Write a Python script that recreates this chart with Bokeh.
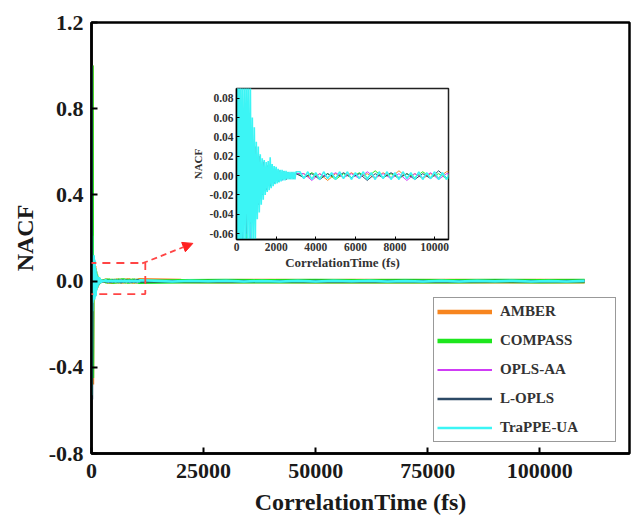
from bokeh.plotting import figure
from bokeh.models import (Range1d, FixedTicker, PrintfTickFormatter, Legend, LegendItem,
                          BoxAnnotation, Arrow, NormalHead)
from bokeh.layouts import column
from bokeh.embed import file_html
from bokeh.resources import INLINE

FONT = "Liberation Serif, Times New Roman, serif"

# ---------------- data ----------------
SERIES = ["AMBER", "COMPASS", "OPLS-AA", "L-OPLS", "TraPPE-UA"]
COLORS = ["#f7851f", "#1ee61e", "#cf3cf5", "#2c4a66", "#3cf5f5"]
MAIN_WIDTHS = [4.5, 4.5, 2.0, 2.5, 2.5]
INSET_WIDTHS = [1.0, 1.0, 1.0, 1.0, 1.6]

# correlation time grids (fs)
T_DENSE = (list(range(0, 3001, 50)) + list(range(3200, 10801, 200))
           + list(range(14000, 110001, 4000)))
T_COARSE = (list(range(0, 3001, 100)) + list(range(3400, 10601, 400))
            + list(range(20000, 110001, 10000)))

TRAPPE_UA = [
    1.0, -0.53, 0.21, -0.14, 0.12, -0.10, 0.11, -0.09, 0.10, -0.08,
    0.12, -0.07, 0.10, -0.085, 0.095, -0.075, 0.06, -0.07, 0.05, -0.068,
    0.035, -0.045, 0.03, -0.038, 0.022, -0.03, 0.018, -0.025, 0.016, -0.02,
    0.014, -0.017, 0.015, -0.015, 0.019, -0.013, 0.012, -0.011, 0.010, -0.009,
    0.009, -0.008, 0.007, -0.007, 0.006, -0.006, 0.006, -0.005, 0.005, -0.005,
    0.005, -0.004, 0.004, -0.004, 0.004, -0.004, 0.004, -0.004, 0.004, -0.004,
    0.004,
    0.004, -0.003, 0.004, -0.004, 0.003, -0.004, 0.004, -0.003, 0.003, -0.004,
    0.004, -0.003, 0.004, -0.004, 0.003, -0.003, 0.004, -0.004, 0.003, -0.004,
    0.004, -0.003, 0.004, -0.004, 0.003, -0.004, 0.004, -0.003, 0.003, -0.004,
    0.004, -0.004, 0.003, -0.003, 0.004, -0.004, 0.003, -0.004, 0.004,
    0.002, -0.002, 0.002, -0.001, 0.002, -0.002, 0.001, -0.002, 0.002, -0.002,
    0.002, -0.001, 0.002, -0.002, 0.001, -0.002, 0.002, -0.002, 0.002, -0.001,
    0.002, -0.002, 0.001, -0.002, 0.002,
]

AMBER = [
    1.0, -0.48, 0.09, -0.07, 0.08, -0.06, 0.07, -0.05, 0.04, -0.04,
    0.025, -0.03, 0.018, -0.02, 0.012, -0.013, 0.01, -0.01, 0.008, -0.007,
    0.006, -0.005, 0.005, -0.004, 0.004, -0.004, 0.003, -0.003, 0.003, -0.003,
    0.002,
    0.002, -0.003, 0.002, -0.005, 0.002, -0.002, 0.003, -0.002, 0.002, -0.003,
    0.003, -0.002, 0.005, -0.002, 0.002, -0.003, 0.002, -0.002, 0.004,
    0.001, -0.001, 0.001, -0.001, 0.001, -0.001, 0.001, -0.001, 0.001, -0.001,
]

COMPASS = [
    1.0, -0.45, 0.08, -0.06, 0.07, -0.065, 0.06, -0.05, 0.045, -0.035,
    0.03, -0.025, 0.02, -0.018, 0.014, -0.012, 0.011, -0.009, 0.008, -0.007,
    0.006, -0.006, 0.005, -0.004, 0.004, -0.003, 0.003, -0.003, 0.003, -0.002,
    0.003,
    -0.002, 0.003, -0.002, 0.002, -0.004, 0.002, -0.002, 0.003, -0.002, 0.005,
    -0.002, 0.002, -0.003, 0.002, -0.002, 0.004, -0.002, 0.002, -0.003,
    -0.001, 0.001, -0.001, 0.001, -0.001, 0.001, -0.001, 0.001, -0.001, 0.001,
]

OPLS_AA = [
    1.0, -0.5, 0.07, -0.08, 0.06, -0.06, 0.08, -0.07, 0.05, -0.04,
    0.03, -0.03, 0.02, -0.02, 0.015, -0.014, 0.01, -0.01, 0.008, -0.008,
    0.006, -0.005, 0.005, -0.005, 0.004, -0.004, 0.003, -0.003, 0.003, -0.003,
    0.002,
    0.002, -0.005, 0.002, -0.002, 0.003, -0.002, 0.002, -0.003, 0.004, -0.002,
    0.002, -0.003, 0.002, -0.005, 0.002, -0.002, 0.003, -0.004, 0.002,
    0.001, -0.001, 0.001, -0.001, 0.001, -0.001, 0.001, -0.001, 0.001, -0.001,
]

L_OPLS = [
    1.0, -0.55, 0.1, -0.08, 0.07, -0.06, 0.06, -0.05, 0.045, -0.04,
    0.03, -0.03, 0.02, -0.02, 0.014, -0.015, 0.01, -0.011, 0.008, -0.008,
    0.006, -0.006, 0.005, -0.004, 0.004, -0.004, 0.003, -0.003, 0.002, -0.003,
    0.002,
    -0.002, 0.002, -0.004, 0.002, -0.002, 0.003, -0.002, 0.002, -0.005, 0.002,
    -0.002, 0.003, -0.002, 0.002, -0.004, 0.002, -0.003, 0.005, -0.002,
    -0.001, 0.001, -0.001, 0.001, -0.001, 0.001, -0.001, 0.001, -0.001, 0.001,
]

SERIES_DATA = [(T_COARSE, AMBER), (T_COARSE, COMPASS), (T_COARSE, OPLS_AA),
               (T_COARSE, L_OPLS), (T_DENSE, TRAPPE_UA)]

X_TICKS = [0, 25000, 50000, 75000, 100000]
Y_TICKS = [-0.8, -0.4, 0.0, 0.4, 0.8, 1.2]
INSET_X_TICKS = [0, 2000, 4000, 6000, 8000, 10000]
INSET_Y_TICKS = [-0.06, -0.04, -0.02, 0.0, 0.02, 0.04, 0.06, 0.08]

ZOOM_BOX = dict(left=-700, right=12000, bottom=-0.06, top=0.084)
ARROW_FROM = (11300, 0.082)
ARROW_TO = (22600, 0.175)
RED = "#ff4545"

# ---------------- main figure ----------------
p = figure(width=631, height=525, x_range=Range1d(0, 120000), y_range=Range1d(-0.8, 1.2),
           output_backend="svg", toolbar_location=None,
           min_border_left=91, min_border_right=2, min_border_top=22, min_border_bottom=72)
p.background_fill_color = "white"
p.border_fill_color = "white"
p.grid.visible = False
p.outline_line_color = "black"
p.outline_line_width = 2.5

for ax, ticks, fmt in ((p.xaxis, X_TICKS, "%d"), (p.yaxis, Y_TICKS, "%.1f")):
    ax.ticker = FixedTicker(ticks=ticks)
    ax.formatter = PrintfTickFormatter(format=fmt)
    ax.major_tick_in = 6
    ax.major_tick_out = 0
    ax.minor_tick_line_color = None
    ax.axis_line_width = 2.5
    ax.major_tick_line_width = 2
    ax.major_label_text_font = FONT
    ax.major_label_text_font_style = "bold"
    ax.major_label_text_font_size = "22px"
    ax.major_label_text_color = "#1a1a1a"
    ax.axis_label_text_font = FONT
    ax.axis_label_text_font_style = "bold"
    ax.axis_label_text_font_size = "24px"
    ax.axis_label_text_color = "#1a1a1a"
p.xaxis.axis_label = "CorrelationTime (fs)"
p.yaxis.axis_label = "NACF"
p.xaxis.major_label_standoff = 10
p.yaxis.major_label_standoff = 8
p.xaxis.axis_label_standoff = 8
p.yaxis.axis_label_standoff = 8

items = []
for name, color, w, (t, v) in zip(SERIES, COLORS, MAIN_WIDTHS, SERIES_DATA):
    r = p.line(t, v, line_color=color, line_width=w)
    items.append(LegendItem(label=name, renderers=[r]))

box = BoxAnnotation(fill_alpha=0, line_color=RED, line_alpha=1.0, line_dash="8 6",
                    line_width=1.8, **ZOOM_BOX)
p.add_layout(box)
arrow = Arrow(x_start=ARROW_FROM[0], y_start=ARROW_FROM[1], x_end=ARROW_TO[0], y_end=ARROW_TO[1],
              line_color=RED, line_width=1.8, line_dash="6 4",
              end=NormalHead(size=10, fill_color="#ff2020", line_color="#ff2020"))
p.add_layout(arrow)

legend = Legend(items=items, location=(342, 11), margin=0, padding=3, spacing=8,
                glyph_width=55, glyph_height=21, label_height=21, label_width=112,
                label_standoff=8, label_text_font=FONT, label_text_font_style="bold",
                label_text_font_size="15px", label_text_color="#333333",
                border_line_color="#333333", border_line_width=1.2,
                background_fill_color="white", background_fill_alpha=1)
p.add_layout(legend)

# ---------------- inset ----------------
# (a column aligns the plots' left borders, so the inset keeps the same 91px left border)
inset = figure(width=305, height=189, x_range=Range1d(0, 10700), y_range=Range1d(-0.066, 0.090),
               output_backend="svg", toolbar_location=None,
               min_border_left=91, min_border_right=2, min_border_top=5, min_border_bottom=32)
inset.background_fill_color = "white"
inset.border_fill_color = None
inset.grid.visible = False
inset.outline_line_color = "#222222"
inset.outline_line_width = 1.5
for ax, ticks, fmt in ((inset.xaxis, INSET_X_TICKS, "%d"), (inset.yaxis, INSET_Y_TICKS, "%.2f")):
    ax.ticker = FixedTicker(ticks=ticks)
    ax.formatter = PrintfTickFormatter(format=fmt)
    ax.major_tick_in = 3
    ax.major_tick_out = 0
    ax.minor_tick_line_color = None
    ax.axis_line_width = 1.5
    ax.major_label_text_font = FONT
    ax.major_label_text_font_style = "bold"
    ax.major_label_text_font_size = "11.5px"
    ax.major_label_text_color = "#333333"
    ax.axis_label_text_font = FONT
    ax.axis_label_text_font_style = "bold"
    ax.axis_label_text_color = "#333333"
inset.xaxis.axis_label = "CorrelationTime (fs)"
inset.yaxis.axis_label = "NACF"
inset.xaxis.axis_label_text_font_size = "13px"
inset.yaxis.axis_label_text_font_size = "11px"
inset.xaxis.major_label_standoff = 3
inset.yaxis.major_label_standoff = 3
inset.xaxis.axis_label_standoff = 1
inset.yaxis.axis_label_standoff = 3

for color, w, (t, v) in zip(COLORS, INSET_WIDTHS, SERIES_DATA):
    inset.line(t, v, line_color=color, line_width=w)

inset.styles = {"position": "absolute", "left": "145px", "top": "83px", "z-index": "5"}

root = column(p, inset)
open("out.html", "w").write(file_html(root, INLINE))
